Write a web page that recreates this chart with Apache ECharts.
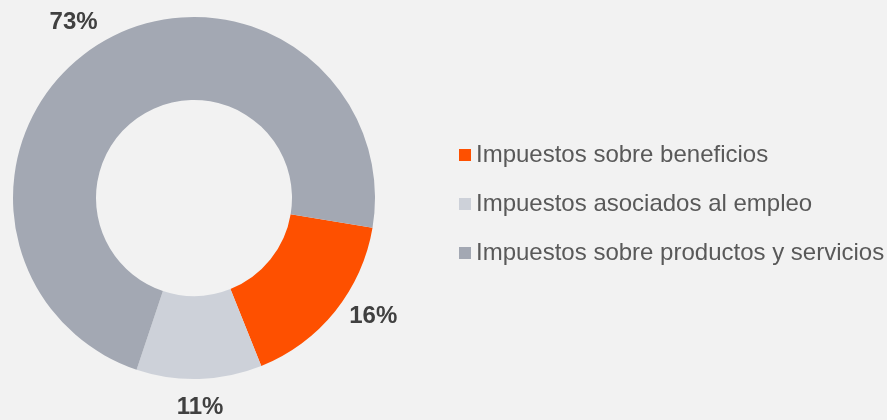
<!DOCTYPE html>
<html>
<head>
<meta charset="UTF-8"/>
<title></title>
<script src="https://cdn.jsdelivr.net/npm/echarts@6/dist/echarts.min.js"></script>
<style>
html,body{margin:0;padding:0;background:#f2f2f2;}
#main{width:887px;height:420px;}
</style>
</head>
<body>
<div id="main"></div>
<script type="text/javascript">
// datos del grafico (porcentajes)
var categorias = ['Impuestos sobre beneficios', 'Impuestos asociados al empleo', 'Impuestos sobre productos y servicios'];
var valores = [16.3, 11.2, 72.5];
var colores = ['#fe5000', '#cdd1d9', '#a3a8b3'];
// ajuste de las etiquetas (como en el grafico original)
var desplazamientos = [[7, -4], [-28, 21], [9, -8]];

var myChart = echarts.init(document.getElementById('main'));
var datos = [];
for (var i = 0; i < categorias.length; i++) {
    datos.push({
        name: categorias[i],
        value: valores[i],
        itemStyle: { color: colores[i] },
        label: { offset: desplazamientos[i] }
    });
}
var option = {
    backgroundColor: '#f2f2f2',
    animation: false,
    legend: {
        orient: 'vertical',
        left: 459,
        top: 143,
        padding: 0,
        itemWidth: 12,
        itemHeight: 12,
        itemGap: 25,
        itemTextGap: 5,
        icon: 'rect',
        textStyle: { fontFamily: 'Liberation Sans', fontSize: 24, color: '#595959' },
        data: categorias
    },
    series: [
        {
            type: 'pie',
            center: [194, 198],
            radius: [98, 181],
            startAngle: -9.5,
            clockwise: true,
            label: {
                show: true,
                position: 'outside',
                formatter: function (p) { return Math.round(p.value) + '%'; },
                fontFamily: 'Liberation Sans',
                fontSize: 24,
                fontWeight: 'bold',
                color: '#404040'
            },
            labelLine: { show: false, length: 14, length2: 0 },
            emphasis: { disabled: true },
            data: datos
        }
    ]
};
myChart.setOption(option);
</script>
</body>
</html>
